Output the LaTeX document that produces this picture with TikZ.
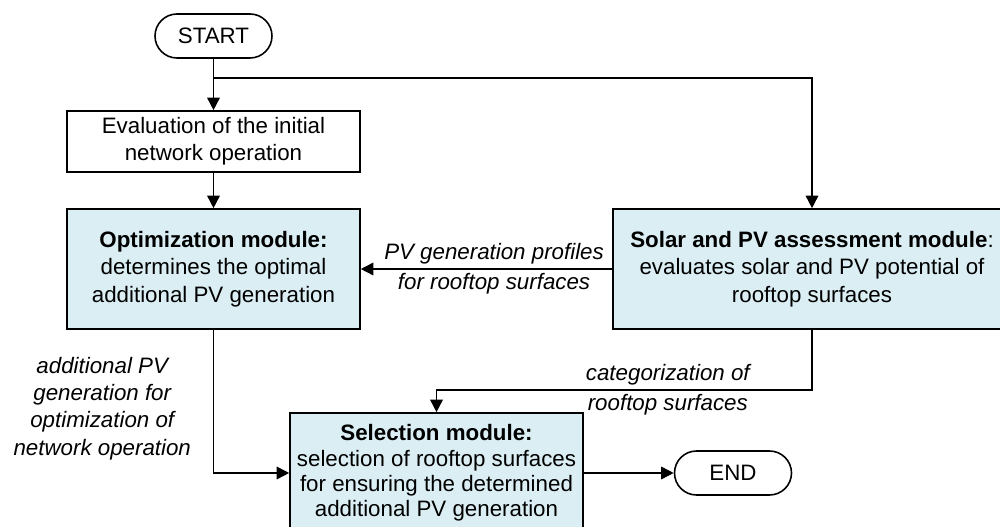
\documentclass[tikz,border=0pt]{standalone}
\usepackage{fontspec}
\setmainfont{Liberation Sans}
\usepackage{xcolor}
\usepackage{tikz}
\usetikzlibrary{arrows.meta}

\definecolor{modfill}{HTML}{DAEEF3}

\tikzset{
  >={Triangle[length=0.25cm,width=0.25cm]},
  term/.style={draw,rounded corners=0.44cm,minimum width=2.34cm,minimum height=0.88cm,
    font=\fontsize{12.7}{15.5}\selectfont},
  procbox/.style={draw,align=center,minimum width=5.86cm,minimum height=1.22cm,inner sep=1pt,
    font=\fontsize{12.7}{15.5}\selectfont},
  modbox/.style={procbox,fill=modfill,minimum height=2.4cm},
  lbl/.style={align=center,inner sep=1pt,font=\fontsize{12.7}{15.5}\selectfont\itshape}
}

\begin{document}
\begin{tikzpicture}[line width=0.9pt]
  \clip (0,0) rectangle (20,10.54);

  % Bloki
  \node[term] (start) at (4.27,9.82) {START};
  \node[procbox] (eval) at (4.27,7.71) {Evaluation of the initial\\network operation};
  \node[modbox] (opt) at (4.27,5.16) {\textbf{Optimization module:}\\determines the optimal\\additional PV generation};
  \node[modbox,minimum width=7.96cm] (solar) at (16.24,5.16) {\textbf{Solar and PV assessment module}:\\evaluates solar and PV potential of\\rooftop surfaces};
  \node[modbox,font=\fontsize{12.7}{14.4}\selectfont] (sel) at (8.73,1.08) {\textbf{Selection module:}\\selection of rooftop surfaces\\for ensuring the determined\\additional PV generation};
  \node[term] (end) at (14.66,1.08) {END};

  % Polaczenia
  \coordinate (split) at (4.27,8.98);
  \draw[->] (start) -- (eval);
  \draw[->] (split) -| (solar.north);
  \draw[->] (eval) -- (opt);
  \draw[->] (solar.west) -- node[lbl,pos=0.47] {PV generation profiles\\[1.5pt]for rooftop surfaces} (opt.east);
  \draw[->] (opt.south) -- node[lbl,left,xshift=-0.4cm,pos=0.55] {additional PV\\generation for\\optimization of\\network operation} (opt.south |- sel.west) -- (sel.west);
  \draw[->] (solar.south) -- ++(0,-1.2) coordinate (bend)
    -- node[lbl,pos=0.384] {categorization of\\[1.5pt]rooftop surfaces} (bend -| sel.north) -- (sel.north);
  \draw[->] (sel.east) -- (end.west);
\end{tikzpicture}
\end{document}
